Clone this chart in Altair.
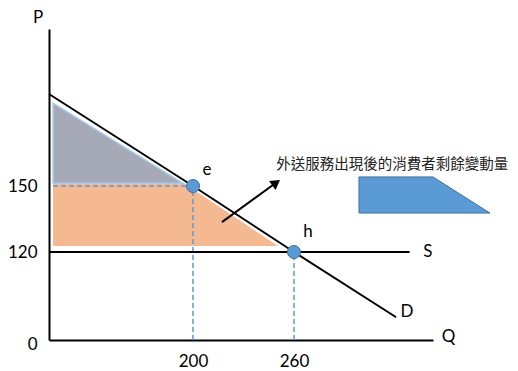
import altair as alt
import pandas as pd

# ---------------- data (economic units; axes are schematic / piecewise) ----------------
P_TICKS = [0, 120, 150]
Q_TICKS = [200, 260]
Q_BREAKS = [0, 200, 260, 343]
P_BREAKS = [0, 120, 150, 221]

demand_q = [0, 200, 260, 321]
demand_p = [191.6, 150, 120, 31]
supply_q = [0, 329]
supply_p = [120, 120]

point_names = ["e", "h"]
point_q = [200, 260]
point_p = [150, 120]
point_label_q = [208.3, 268.4]
point_label_p = [157.2, 129.1]

curve_names = ["S", "D"]
curve_label_q = [340, 327.5]
curve_label_p = [119.6, 38.2]

gray_q = [5.6, 186.1]
gray_top = [187.5, 151.2]
gray_bottom = [151.2, 151.2]

orange_q = [5.6, 188.9, 200, 250.5]
orange_top = [150.9, 150.9, 148.5, 122.7]
orange_bottom = [122.7, 122.7, 122.7, 122.7]

guide_q1 = [5.6, 200, 260]
guide_q2 = [200, 200, 260]
guide_p1 = [150, 0, 0]
guide_p2 = [150, 150, 120]

arrow_q1 = [217.2]
arrow_p1 = [133.6]
arrow_q2 = [248.1]
arrow_p2 = [150.8]
arrow_head_q = [249.4]
arrow_head_p = [151.5]

legend_text = ["外送服務出現後的消費者剩餘變動量"]
legend_text_q = [249.4]
legend_text_p = [159.5]
swatch_q = [298.8, 343, 377]
swatch_top = [154.1, 154.1, 137.7]
swatch_bottom = [137.7, 137.7, 137.7]

# ---------------- scales / axes ----------------
xs = alt.Scale(domain=Q_BREAKS, range=[0, 144, 245, 384], nice=False, zero=False)
ys = alt.Scale(domain=P_BREAKS, range=[311, 223, 157, 0], nice=False, zero=False)

FONT = "Lato"
xaxis = alt.Axis(values=Q_TICKS, title="Q", grid=False, ticks=False, tickSize=0,
                 domainColor="black", domainWidth=2,
                 labelFont=FONT, labelFontSize=17, labelColor="black",
                 labelPadding=21, labelBaseline="middle", labelAlign="center",
                 labelFlush=False, labelOverlap=False,
                 titleFont=FONT, titleFontSize=17, titleFontWeight="normal",
                 titleColor="black", titleAngle=0, titleX=399, titleY=-3.5,
                 titleAlign="center", titleBaseline="middle")
yaxis = alt.Axis(values=P_TICKS, title="P", grid=False, ticks=False, tickSize=0,
                 domainColor="black", domainWidth=2,
                 labelFont=FONT, labelFontSize=17, labelColor="black",
                 labelPadding=12, labelBaseline="middle", labelAlign="right",
                 labelFlush=False, labelOverlap=False,
                 labelOffset={"condition": {"test": "datum.value === 0", "value": 4.5}, "value": 0},
                 titleFont=FONT, titleFontSize=17, titleFontWeight="normal",
                 titleColor="black", titleAngle=0, titleX=-11.5, titleY=-12,
                 titleAlign="center", titleBaseline="middle")


def X(f):
    return alt.X(f, type="quantitative", scale=xs, axis=xaxis)


def Y(f):
    return alt.Y(f, type="quantitative", scale=ys, axis=yaxis)


# ---------------- layers ----------------
gray = alt.Chart(pd.DataFrame({"q": gray_q, "p": gray_top, "p2": gray_bottom})).mark_area(
    color="#A6A9B6", stroke="#A9CBEA", strokeWidth=1.5
).encode(x=X("q"), y=Y("p"), y2="p2")

orange = alt.Chart(pd.DataFrame({"q": orange_q, "p": orange_top, "p2": orange_bottom})).mark_area(
    color="#F4B990"
).encode(x=X("q"), y=Y("p"), y2="p2")

guides = alt.Chart(pd.DataFrame({"q": guide_q1, "q2": guide_q2, "p": guide_p1, "p2": guide_p2})).mark_rule(
    color="#5B9BD5", strokeWidth=1.5, strokeDash=[5, 3]
).encode(x=X("q"), x2="q2", y=Y("p"), y2="p2")

demand = alt.Chart(pd.DataFrame({"q": demand_q, "p": demand_p, "i": range(len(demand_q))})).mark_line(
    color="black", strokeWidth=2
).encode(x=X("q"), y=Y("p"), order="i:Q")

supply = alt.Chart(pd.DataFrame({"q": supply_q, "p": supply_p, "i": range(len(supply_q))})).mark_line(
    color="black", strokeWidth=2
).encode(x=X("q"), y=Y("p"), order="i:Q")

arrow = alt.Chart(pd.DataFrame({"q": arrow_q1, "p": arrow_p1, "q2": arrow_q2, "p2": arrow_p2})).mark_rule(
    color="black", strokeWidth=2
).encode(x=X("q"), y=Y("p"), x2="q2", y2="p2")

arrow_head = alt.Chart(pd.DataFrame({"q": arrow_head_q, "p": arrow_head_p})).mark_point(
    shape="triangle-up", filled=True, color="black", size=120, angle=54, opacity=1
).encode(x=X("q"), y=Y("p"))

points = alt.Chart(pd.DataFrame({"q": point_q, "p": point_p})).mark_point(
    shape="circle", filled=True, fill="#5B9BD5", stroke="#41719C", strokeWidth=1, size=170, opacity=1
).encode(x=X("q"), y=Y("p"))

point_labels = alt.Chart(pd.DataFrame({"q": point_label_q, "p": point_label_p, "t": point_names})).mark_text(
    font=FONT, fontSize=17, color="black", align="center", baseline="middle"
).encode(x=X("q"), y=Y("p"), text="t:N")

curve_labels = alt.Chart(pd.DataFrame({"q": curve_label_q, "p": curve_label_p, "t": curve_names})).mark_text(
    font=FONT, fontSize=17, color="black", align="center", baseline="middle"
).encode(x=X("q"), y=Y("p"), text="t:N")

legend_label = alt.Chart(pd.DataFrame({"q": legend_text_q, "p": legend_text_p, "t": legend_text})).mark_text(
    font="Noto Sans CJK TC", fontSize=14.5, color="#222222", align="left", baseline="middle"
).encode(x=X("q"), y=Y("p"), text="t:N")

swatch = alt.Chart(pd.DataFrame({"q": swatch_q, "p": swatch_top, "p2": swatch_bottom})).mark_area(
    color="#5B9BD5", stroke="#41719C", strokeWidth=1
).encode(x=X("q"), y=Y("p"), y2="p2")

chart = alt.layer(
    gray, orange, guides, demand, supply, arrow, arrow_head, points,
    point_labels, curve_labels, legend_label, swatch
).properties(
    width=384, height=311,
    autosize=alt.AutoSizeParams(type="none"),
    padding={"left": 41, "top": 21, "right": 77, "bottom": 31},
).configure_view(stroke=None)

chart.save("out.html", embed_options={"renderer": "svg", "actions": False})
